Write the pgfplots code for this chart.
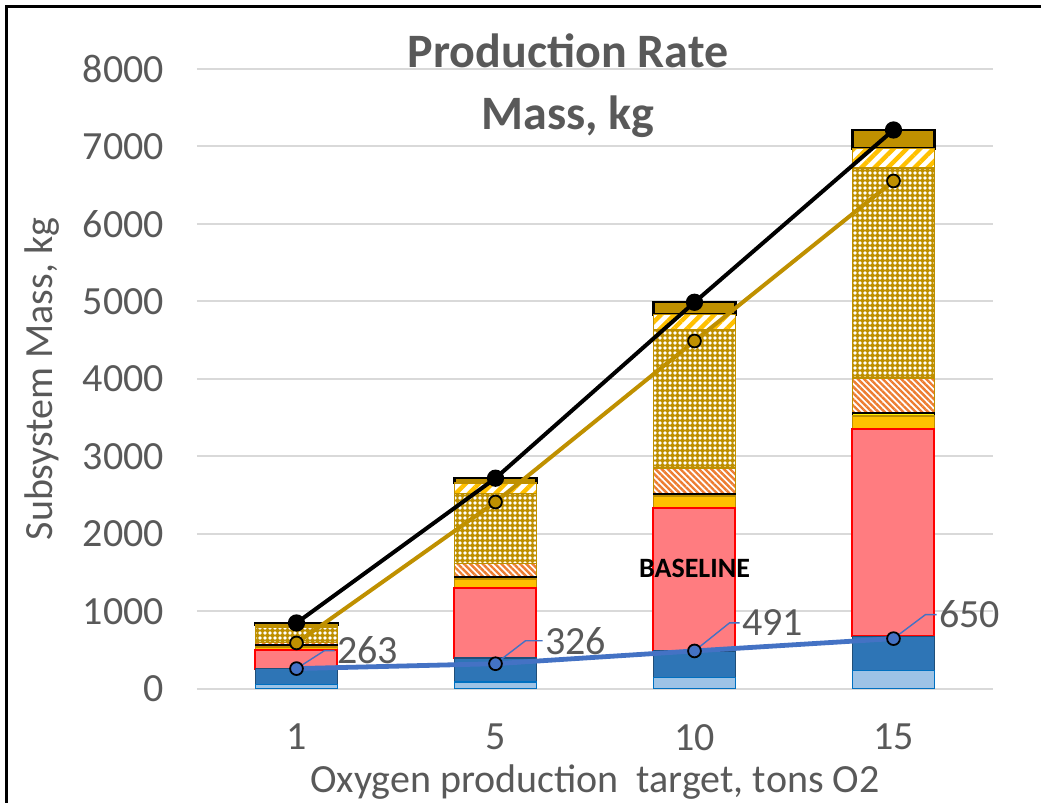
\documentclass[border=0pt]{standalone}
\usepackage{fontspec}
\setmainfont{Carlito}
\usepackage{pgfplots}
\pgfplotsset{compat=1.18}
\usetikzlibrary{patterns,patterns.meta}

\definecolor{lblue}{HTML}{9DC3E6}
\definecolor{lbluee}{HTML}{0070C0}
\definecolor{dblue}{HTML}{2E75B6}
\definecolor{dbluee}{HTML}{1F4E79}
\definecolor{salmon}{HTML}{FF7C80}
\definecolor{amber}{HTML}{FFC000}
\definecolor{dgold}{HTML}{BF9000}
\definecolor{orng}{HTML}{ED7D31}
\definecolor{lineblue}{HTML}{4472C4}
\definecolor{txt}{HTML}{595959}
\definecolor{gridc}{HTML}{D9D9D9}

\begin{document}
\begin{tikzpicture}
\path[use as bounding box] (0,0) rectangle (520.5pt,401.5pt);
\pgfplotsset{
  base/.style={
    width=398pt, height=310pt, scale only axis,
    at={(98.5pt,57pt)}, anchor=south west,
    xmin=-0.5, xmax=3.5, ymin=0, ymax=8000,
  }
}

% stacked subsystem masses
\begin{axis}[
  base,
  ybar stacked,
  bar width=41pt,
  axis line style={draw=none},
  major tick length=0pt,
  ymajorgrids,
  grid style={gridc, line width=1pt},
  ytick={0,1000,...,8000},
  xtick={0,1,2,3},
  xticklabels={1,5,10,15},
  tick label style={font=\fontsize{20}{24}\selectfont, text=txt},
  /pgf/number format/1000 sep={},
  /pgf/number format/assume math mode=true,
  yticklabel style={xshift=-13pt},
  xticklabel style={yshift=-14pt},
  label style={font=\fontsize{20}{24}\selectfont, text=txt},
  xlabel={Oxygen production\ \ target, tons O2},
  ylabel={Subsystem Mass, kg},
  xlabel style={at={(axis description cs:0.5,-0.15)}, anchor=center},
  ylabel style={at={(axis description cs:-0.1947,0.5)}, anchor=center},
]
\addplot[fill=lblue, draw=lbluee, line width=0.6pt]
  coordinates {(0,60) (1,90) (2,145) (3,240)};
\addplot[fill=dblue, draw=dbluee, line width=0.75pt]
  coordinates {(0,203) (1,310) (2,346) (3,440)};
\addplot[fill=salmon, draw=red, line width=1pt]
  coordinates {(0,242) (1,900) (2,1839) (3,2680)};
\addplot[fill=amber, draw=dgold, line width=0.9pt]
  coordinates {(0,40) (1,120) (2,160) (3,160)};
\addplot[fill=yellow, draw=black, line width=0.9pt]
  coordinates {(0,20) (1,30) (2,30) (3,40)};
\addplot[fill=white, draw=dgold, line width=0.75pt,
  postaction={pattern={Lines[angle=-45,distance=2.2pt,line width=1.2pt]}, pattern color=orng}]
  coordinates {(0,35) (1,170) (2,330) (3,450)};
\addplot[fill=dgold, draw=dgold, line width=0.75pt,
  postaction={pattern={Dots[distance=2.5pt,radius=0.9pt]}, pattern color=white}]
  coordinates {(0,200) (1,905) (2,1780) (3,2710)};
\addplot[fill=white, draw=dgold, line width=0.75pt,
  postaction={pattern={Lines[angle=45,distance=4.7pt,line width=2.2pt]}, pattern color=amber}]
  coordinates {(0,25) (1,130) (2,200) (3,255)};
\addplot[fill=dgold, draw=black, line width=1.2pt]
  coordinates {(0,27) (1,65) (2,160) (3,240)};
\end{axis}

% totals as lines
\begin{axis}[base, hide axis, clip=false]
\node[font=\fontsize{14}{16}\selectfont\bfseries, text=black] at (axis cs:2,1561) {BASELINE};

\addplot[lineblue, line width=2.4pt, mark=*, mark size=3.2pt,
  mark options={fill=lineblue, draw=black, line width=0.9pt}]
  coordinates {(0,263) (1,326) (2,491) (3,650)};
\addplot[dgold, line width=2pt, mark=*, mark size=3.2pt,
  mark options={fill=dgold, draw=black, line width=0.9pt}]
  coordinates {(0,594) (1,2413) (2,4490) (3,6555)};
\addplot[black, line width=2pt, mark=*, mark size=3.3pt,
  mark options={fill=black}]
  coordinates {(0,852) (1,2720) (2,4990) (3,7213)};

\tikzset{lbl/.style={right, inner sep=1pt, font=\fontsize{20}{24}\selectfont, text=txt}}
\draw[lineblue, line width=0.7pt] (axis cs:0,263) -- ++(14pt,9pt) -- ++(5pt,0pt) node[lbl] {263};
\draw[lineblue, line width=0.7pt] (axis cs:1,326) -- ++(15pt,11.5pt) -- ++(8.5pt,0pt) node[lbl] {326};
\draw[lineblue, line width=0.7pt] (axis cs:2,491) -- ++(17.5pt,14pt) -- ++(5pt,0pt) node[lbl] {491};
\draw[lineblue, line width=0.7pt] (axis cs:3,650) -- ++(16pt,12pt) -- ++(5.5pt,0pt) node[lbl] {650};
\end{axis}

\node[font=\fontsize{24}{31}\selectfont\bfseries, text=txt, align=center]
  at (284pt,358.5pt) {Production Rate\\Mass, kg};
\draw[line width=1.5pt] (3pt,0) -- (3pt,398pt) -- (521pt,398pt);
\end{tikzpicture}
\end{document}
